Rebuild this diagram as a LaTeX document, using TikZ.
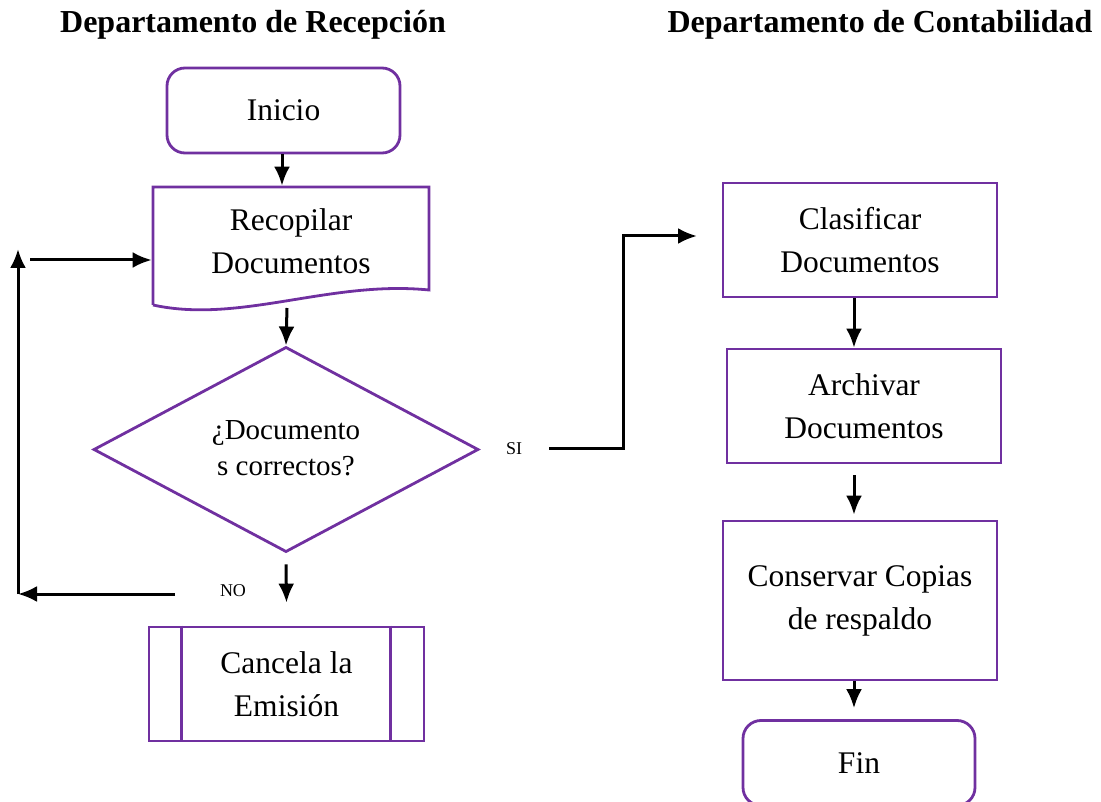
\documentclass[tikz,border=0pt]{standalone}
\usepackage{fontspec}
\setmainfont{Liberation Serif}
\usetikzlibrary{shapes.geometric,arrows.meta}
\definecolor{morado}{HTML}{7030A0}

\begin{document}
\begin{tikzpicture}[
  x=1pt, y=-1pt,
  caja/.style={draw=morado,line width=2.8pt,minimum width=274pt,minimum height=114pt,align=center,font=\fontsize{31.5}{43}\selectfont},
  terminal/.style={caja,rounded corners=18pt,minimum width=233pt,minimum height=85pt},
  decision/.style={diamond,draw=morado,line width=2.8pt,minimum width=385pt,minimum height=203pt,inner sep=0pt,align=center,font=\fontsize{29}{36}\selectfont},
  titulo/.style={font=\fontsize{32}{38}\selectfont\bfseries},
  etiqueta/.style={font=\fontsize{18}{22}\selectfont},
  flecha/.style={line width=3pt,-{Latex[length=19pt,width=16pt]}}
]
\useasboundingbox (0,0) rectangle (1101,802);

\node[titulo] (recepcion) at (253,25) {Departamento de Recepción};
\node[titulo] (contabilidad) at (880,25) {Departamento de Contabilidad};

% lado izquierdo
\node[terminal] (inicio) at (283.5,110.5) {Inicio};
\node[caja,draw=none,minimum width=276pt,minimum height=108pt] (recopilar) at (291,241) {Recopilar\\Documentos};
\draw[draw=morado,line width=2.8pt] (153,305) -- (153,187) -- (429,187) -- (429,290)
  .. controls (330,280) and (240,324) .. (153,305);
\node[decision,text depth=2pt] (documentos) at (286,449.5) {¿Documento\\s correctos?};
\node[caja,minimum width=275pt] (cancela) at (286.5,684) {Cancela la\\Emisión};
\draw[draw=morado,line width=2.8pt] ([xshift=34pt]cancela.north west) -- ([xshift=34pt]cancela.south west)
  ([xshift=-35pt]cancela.north east) -- ([xshift=-35pt]cancela.south east);

\node[etiqueta] (no) at (233,591) {NO};
\node[etiqueta] (si) at (514,449) {SI};

\coordinate (ejeIzq) at (282,0);
\coordinate (ondaBajo) at (287,308);
\coordinate (noIni) at (175,594);
\coordinate (esquina) at (18,594);
\coordinate (arriba) at (18,249);
\coordinate (retorno) at (30,260);
\coordinate (siIni) at (549,448);
\coordinate (siFin) at (697,236);

\draw[flecha] (inicio.south -| ejeIzq) -- (recopilar.north -| ejeIzq);
\draw[flecha] (ondaBajo) -- (documentos.north);
\draw[flecha] ([yshift=-11pt]documentos.south) -- ([yshift=23pt]cancela.north);
\draw[flecha] (noIni) -- (esquina);
\draw[flecha] (esquina) -- (arriba);
\draw[flecha] (retorno) -- (retorno -| recopilar.west);
\draw[flecha] (siIni) -- ++(74,0) |- (siFin);

% lado derecho
\node[caja] (clasificar) at (860,240) {Clasificar\\Documentos};
\node[caja] (archivar) at (864,406) {Archivar\\Documentos};
\node[caja,minimum height=159pt] (conservar) at (860,600.5) {Conservar Copias\\de respaldo};
\node[terminal,minimum width=232pt] (fin) at (859,763) {Fin};

\coordinate (ejeDer) at (854,0);
\draw[flecha] (clasificar.south -| ejeDer) -- (archivar.north -| ejeDer);
\draw[flecha] ([yshift=-11pt]archivar.south -| ejeDer) -- ([yshift=5pt]conservar.north -| ejeDer);
\draw[flecha] (conservar.south -| ejeDer) -- ([yshift=11pt]fin.north -| ejeDer);
\end{tikzpicture}
\end{document}
